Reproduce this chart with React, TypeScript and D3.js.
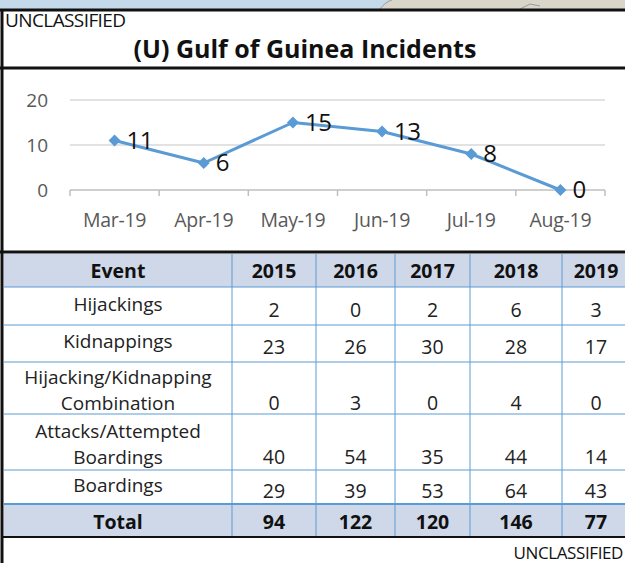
import React from 'react';
import * as d3 from 'd3';

const months = ['Mar-19', 'Apr-19', 'May-19', 'Jun-19', 'Jul-19', 'Aug-19'];
const monthValues = [11, 6, 15, 13, 8, 0];
const yTicks = [0, 10, 20];

const years = ['2015', '2016', '2017', '2018', '2019'];
const events = [
  ['Hijackings'],
  ['Kidnappings'],
  ['Hijacking/Kidnapping', 'Combination'],
  ['Attacks/Attempted', 'Boardings'],
  ['Boardings'],
];
const hijackings = [2, 0, 2, 6, 3];
const kidnappings = [23, 26, 30, 28, 17];
const combination = [0, 3, 0, 4, 0];
const attacks = [40, 54, 35, 44, 14];
const boardings = [29, 39, 53, 64, 43];
const totals = [94, 122, 120, 146, 77];

const W = 625;
const H = 563;
const FONT = '"Open Sans", "Noto Sans", sans-serif';

const App = () => {
  // line chart
  const x = d3.scaleBand().domain(months).range([70, 605]);
  const y = d3.scaleLinear().domain([0, 20]).range([190, 100]);
  const line = d3.line<number>()
    .x((d, i) => x(months[i])! + x.bandwidth() / 2)
    .y(d => y(d));

  // table
  const rows = [hijackings, kidnappings, combination, attacks, boardings];
  const rowEdges = [287, 325, 362, 414, 470, 504];
  const colEdges = [4, 232, 316, 395, 470, 562, 630];
  const colCenter = (i: number) => (colEdges[i] + colEdges[i + 1]) / 2;
  const lineGap = 26;
  const fs = 19.5;

  return (
    <svg width={W} height={H} style={{ position: 'absolute', left: 0, top: 0, background: '#fff' }}
      fontFamily={FONT}>
      {/* map strip at top */}
      <rect x={0} y={0} width={W} height={9} fill="#c4d9ea" />
      <path d="M380,9 C384,4 388,1 392,0 L625,0 L625,9 Z" fill="#d9d5c9" />
      <path d="M380,9 C384,4 388,1 392,0" fill="none" stroke="#9a9a9a" strokeWidth={1} />
      <path d="M520,9 L530,4 L540,6" fill="none" stroke="#9a9a9a" strokeWidth={1} />

      {/* header */}
      <text x={5} y={27} fontSize={19} fill="#111" letterSpacing={-0.6}>UNCLASSIFIED</text>
      <text x={305} y={58} fontSize={25} fontWeight="bold" textAnchor="middle" fill="#111">
        (U) Gulf of Guinea Incidents
      </text>

      {/* chart grid */}
      {yTicks.map(t => (
        <g key={t}>
          <line x1={70} x2={605} y1={y(t)} y2={y(t)} stroke={t === 0 ? '#bfbfbf' : '#d9d9d9'} strokeWidth={1.5} />
          <text x={48} y={y(t)} dy="0.35em" textAnchor="end" fontSize={19} fill="#595959">{t}</text>
        </g>
      ))}
      {d3.range(months.length + 1).map(i => {
        const tx = 70 + i * x.step();
        return <line key={i} x1={tx} x2={tx} y1={190} y2={196} stroke="#bfbfbf" strokeWidth={1.5} />;
      })}
      {months.map(m => (
        <text key={m} x={x(m)! + x.bandwidth() / 2} y={220} dy="0.35em" textAnchor="middle"
          fontSize={19.5} fill="#595959" letterSpacing={-0.3}>{m}</text>
      ))}
      <path d={line(monthValues)!} fill="none" stroke="#5b9bd5" strokeWidth={3} strokeLinejoin="round" />
      {monthValues.map((v, i) => {
        const cx = x(months[i])! + x.bandwidth() / 2;
        const cy = y(v);
        return (
          <g key={i}>
            <path d={`M${cx},${cy - 6} L${cx + 6},${cy} L${cx},${cy + 6} L${cx - 6},${cy} Z`} fill="#5b9bd5" />
            <text x={cx + 12} y={cy} dy="0.35em" fontSize={24} fill="#111" letterSpacing={-0.5}>{v}</text>
          </g>
        );
      })}

      {/* table header + total backgrounds */}
      <rect x={4} y={254} width={W} height={rowEdges[0] - 254} fill="#cfd8e8" />
      <rect x={4} y={rowEdges[5]} width={W} height={537 - rowEdges[5]} fill="#cfd8e8" />

      {/* row lines */}
      {rowEdges.map((ry, i) => (
        <line key={i} x1={4} x2={W} y1={ry} y2={ry} stroke="#5b9bd5" strokeWidth={i === 5 ? 2 : 1} />
      ))}
      {/* column lines */}
      {colEdges.slice(1, 6).map(cx => (
        <line key={cx} x1={cx} x2={cx} y1={254} y2={537} stroke="#5b9bd5" strokeWidth={1} />
      ))}

      {/* header text */}
      <text x={colCenter(0)} y={271} dy="0.35em" textAnchor="middle" fontSize={fs} fontWeight="bold" fill="#111">Event</text>
      {years.map((yr, i) => (
        <text key={yr} x={colCenter(i + 1)} y={271} dy="0.35em" textAnchor="middle" fontSize={fs}
          fontWeight="bold" fill="#111">{yr}</text>
      ))}

      {/* body */}
      {rows.map((vals, r) => {
        const top = rowEdges[r];
        const bot = rowEdges[r + 1];
        const lines = events[r];
        const mid = (top + bot) / 2;
        const firstY = lines.length > 1 ? mid - 11 : mid - 2;
        const numY = lines.length > 1 ? firstY + lineGap : mid + 4;
        return (
          <g key={r}>
            {lines.map((t, k) => (
              <text key={k} x={colCenter(0)} y={firstY + k * lineGap} dy="0.35em" textAnchor="middle"
                fontSize={19} fill="#222">{t}</text>
            ))}
            {vals.map((v, c) => (
              <text key={c} x={colCenter(c + 1)} y={numY} dy="0.35em" textAnchor="middle"
                fontSize={fs} fill="#222">{v}</text>
            ))}
          </g>
        );
      })}

      {/* totals */}
      <text x={colCenter(0)} y={522} dy="0.35em" textAnchor="middle" fontSize={fs} fontWeight="bold" fill="#111">Total</text>
      {totals.map((v, c) => (
        <text key={c} x={colCenter(c + 1)} y={522} dy="0.35em" textAnchor="middle" fontSize={fs}
          fontWeight="bold" fill="#111">{v}</text>
      ))}

      {/* black frame lines */}
      <line x1={0} x2={W} y1={10} y2={10} stroke="#111" strokeWidth={3} />
      <line x1={0} x2={W} y1={68} y2={68} stroke="#111" strokeWidth={3} />
      <line x1={0} x2={W} y1={252} y2={252} stroke="#111" strokeWidth={3} />
      <line x1={3} x2={W} y1={537} y2={537} stroke="#111" strokeWidth={2} />
      <line x1={2} x2={2} y1={9} y2={H} stroke="#111" strokeWidth={3} />

      <text x={623} y={553} dy="0.35em" textAnchor="end" fontSize={17} fill="#111" letterSpacing={-0.4}>UNCLASSIFIED</text>
    </svg>
  );
};

export default App;
